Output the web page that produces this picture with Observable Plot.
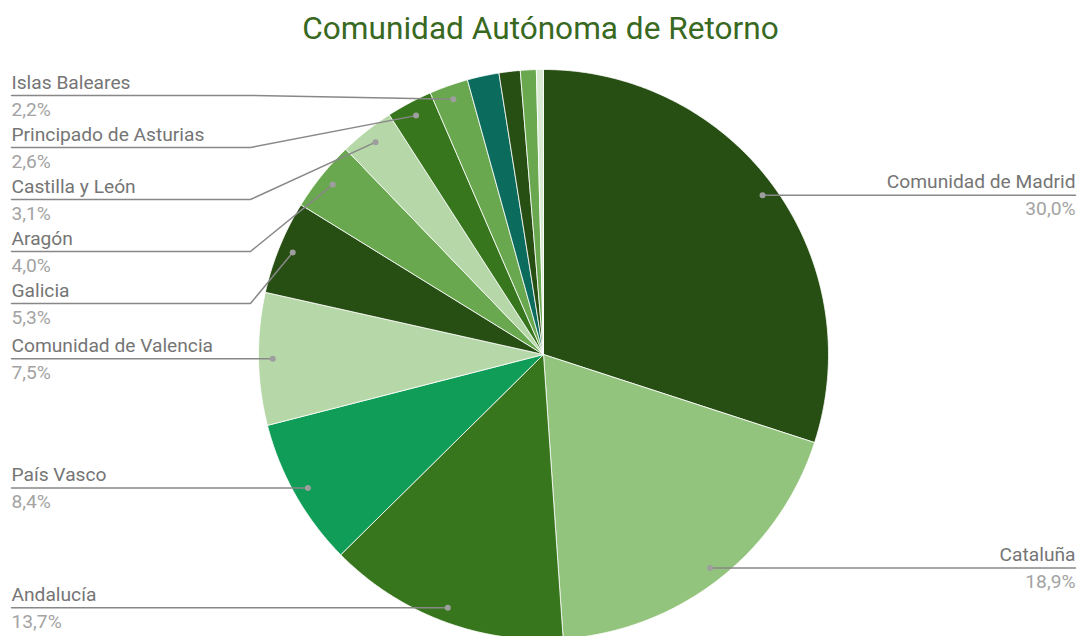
<!DOCTYPE html>
<html><head><meta charset="utf-8">
<script src="https://cdn.jsdelivr.net/npm/d3@7"></script>
<script src="https://cdn.jsdelivr.net/npm/@observablehq/plot@0.6"></script>
<style>
html,body{margin:0;padding:0;background:#fff;overflow:hidden;}
#title{height:50px;line-height:57px;font-family:Roboto,sans-serif;font-size:31.6px;color:#38691f;text-align:center;overflow:visible;white-space:nowrap;}
#chart svg{display:block;}
</style></head><body>
<div id="title">Comunidad Autónoma de Retorno</div>
<div id="chart"></div>
<script>
// ---- data ----
const regions = ["Comunidad de Madrid","Cataluña","Andalucía","País Vasco","Comunidad de Valencia","Galicia","Aragón","Castilla y León","Principado de Asturias","Islas Baleares","Otra comunidad 1","Otra comunidad 2","Otra comunidad 3","Otra comunidad 4"];
const shares = [30.0,18.9,13.7,8.4,7.5,5.3,4.0,3.1,2.6,2.2,1.8,1.2,0.9,0.4];
const sliceColors = ["#274e13","#93c47d","#38761d","#0f9d58","#b6d7a8","#274e13","#6aa84f","#b6d7a8","#38761d","#6aa84f","#0b6b5c","#274e13","#6aa84f","#d9ead3"];

// ---- layout ----
const W = 1081, H = 586;
const CX = 543, CY = 304, R = 285;
const LABEL_R = 0.95;
const EDGE = (CX - 11) / R;
const BEND = (250 - CX) / R;
const GAP = 52 / R;
const TOL = 1 / R;
const TOP_LIMIT = (CY - 45) / R;
const MIN_LABEL = 2.0;

const rows = regions.map((name, i) => ({name, share: shares[i], color: sliceColors[i]}));
const arcs = d3.pie().sort(null).value(d => d.share)(rows);

const slicePts = [];
for (const a of arcs) {
  const n = Math.max(2, Math.ceil((a.endAngle - a.startAngle) / (Math.PI / 360)));
  slicePts.push({name: a.data.name, color: a.data.color, x: 0, y: 0});
  for (let k = 0; k <= n; k++) {
    const t = a.startAngle + (a.endAngle - a.startAngle) * k / n;
    slicePts.push({name: a.data.name, color: a.data.color, x: Math.sin(t), y: Math.cos(t)});
  }
  slicePts.push({name: a.data.name, color: a.data.color, x: 0, y: 0});
}

const labels = arcs.filter(a => a.data.share >= MIN_LABEL).map(a => {
  const m = (a.startAngle + a.endAngle) / 2;
  return {
    name: a.data.name,
    pct: a.data.share.toFixed(1).replace(".", ",") + "%",
    dx: LABEL_R * Math.sin(m), dy: LABEL_R * Math.cos(m),
    side: m < Math.PI ? "right" : "left"
  };
});
// stack labels per side: push down on collision, then lift each pushed cluster toward its dots (bounded by the top)
for (const side of ["left", "right"]) {
  const group = labels.filter(l => l.side === side).sort((a, b) => b.dy - a.dy);
  let prev = Infinity;
  const clusters = [];
  for (const l of group) {
    if (l.dy <= prev - GAP + TOL) { l.ly = l.dy; clusters.push([l]); }
    else { l.ly = prev - GAP; clusters[clusters.length - 1].push(l); }
    prev = l.ly;
  }
  let ceiling = TOP_LIMIT;
  for (const c of clusters) {
    if (c.length > 1) {
      const mean = d3.mean(c, l => l.dy - l.ly);
      const shift = Math.max(0, Math.min(mean, ceiling - c[0].ly));
      for (const l of c) l.ly += shift;
    }
    ceiling = c[c.length - 1].ly - GAP;
  }
}
const leaderPts = [];
for (const l of labels) {
  if (l.side === "left") {
    leaderPts.push({name: l.name, x: -EDGE, y: l.ly}, {name: l.name, x: BEND, y: l.ly}, {name: l.name, x: l.dx, y: l.dy});
  } else {
    leaderPts.push({name: l.name, x: l.dx, y: l.dy}, {name: l.name, x: EDGE, y: l.ly});
  }
}
const leftL = labels.filter(l => l.side === "left");
const rightL = labels.filter(l => l.side === "right");

const font = {fontFamily: "Roboto", fontSize: 19.2, lineAnchor: "bottom"};
const chart = Plot.plot({
  width: W, height: H, margin: 0,
  x: {domain: [-CX / R, (W - CX) / R], range: [0, W], axis: null},
  y: {domain: [CY / R, (CY - H) / R], range: [0, H], axis: null},
  color: {type: "identity"},
  style: {background: "white", fontFamily: "Roboto"},
  marks: [
    Plot.line(slicePts, {x: "x", y: "y", z: "name", fill: "color", stroke: "white", strokeWidth: 0.8, curve: "linear"}),
    Plot.line(leaderPts, {x: "x", y: "y", z: "name", stroke: "#888888", strokeWidth: 1.5}),
    Plot.dot(labels, {x: "dx", y: "dy", r: 3, fill: "#9e9e9e"}),
    Plot.text(leftL, {x: () => -EDGE, y: "ly", text: "name", textAnchor: "start", dy: -7, fill: "#757575", ...font}),
    Plot.text(leftL, {x: () => -EDGE, y: "ly", text: "pct", textAnchor: "start", dy: 20, fill: "#a3a3a3", ...font}),
    Plot.text(rightL, {x: () => EDGE, y: "ly", text: "name", textAnchor: "end", dy: -7, fill: "#757575", ...font}),
    Plot.text(rightL, {x: () => EDGE, y: "ly", text: "pct", textAnchor: "end", dy: 20, fill: "#a3a3a3", ...font})
  ]
});
document.getElementById("chart").appendChild(chart);
</script>
</body></html>
